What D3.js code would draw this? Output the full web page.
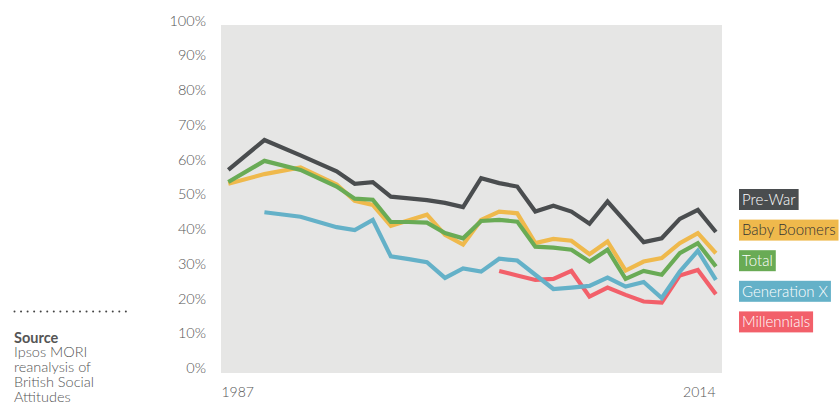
<!DOCTYPE html>
<html>
<head>
<meta charset="utf-8">
<script src="https://cdn.jsdelivr.net/npm/d3@7"></script>
<style>
  html, body { margin: 0; padding: 0; background: #ffffff; }
  svg { display: block; font-family: Lato, "Open Sans", sans-serif; font-weight: 300; }
</style>
</head>
<body>
<svg id="chart" width="839" height="402"></svg>
<script>
// Survey years (BSA waves shown)
const years = [1987, 1989, 1991, 1993, 1994, 1995, 1996, 1997, 1998, 1999, 2000,
  2001, 2002, 2003, 2004, 2005, 2006, 2007, 2008, 2009, 2010, 2011, 2012, 2013, 2014];

// Percentages per generation (null = generation not yet surveyed)
const preWar = [57.0, 65.6, 61.2, 56.6, 53.0, 53.5, 49.3, 48.8, 48.3, 47.5, 46.3,
  54.6, 53.2, 52.2, 45.0, 46.7, 45.0, 41.5, 47.9, 42.0, 36.2, 37.3, 42.9, 45.5, 39.1];
const babyBoomers = [53.0, 55.8, 57.7, 52.8, 48.1, 46.9, 40.9, 42.5, 44.1, 38.3, 35.5,
  42.6, 45.0, 44.5, 35.9, 37.1, 36.6, 32.7, 36.4, 28.0, 30.6, 31.6, 35.9, 38.8, 33.0];
const total = [53.5, 59.6, 57.0, 52.2, 48.7, 48.4, 42.0, 42.0, 41.8, 38.8, 37.3,
  42.3, 42.6, 42.1, 34.9, 34.6, 34.0, 30.6, 34.0, 25.6, 27.9, 26.8, 33.0, 35.9, 29.2];
const generationX = [null, 44.8, 43.5, 40.5, 39.7, 42.6, 32.1, 31.3, 30.4, 25.9, 28.6,
  27.7, 31.4, 30.9, 26.8, 22.7, 23.1, 23.6, 26.0, 23.4, 24.7, 20.1, 27.7, 33.7, 25.3];
const millennials = [null, null, null, null, null, null, null, null, null, null, null,
  null, 27.9, 26.6, 25.3, 25.6, 27.9, 20.5, 23.1, 21.0, 19.1, 18.8, 26.6, 28.2, 21.2];

const yTicks = [0, 10, 20, 30, 40, 50, 60, 70, 80, 90, 100];
const xLabels = [1987, 2014];

const seriesNames = ["Pre-War", "Baby Boomers", "Total", "Generation X", "Millennials"];
const seriesValues = [preWar, babyBoomers, total, generationX, millennials];
const seriesColors = ["#4a4d4f", "#efb94c", "#69ab55", "#64b1c8", "#f2606a"];
const labelColors = ["#ffffff", "#333333", "#ffffff", "#ffffff", "#ffffff"];

// Series drawn from the back (Millennials) to the front (Pre-War)
const drawOrder = [4, 3, 1, 2, 0];

const svg = d3.select("#chart");

const x = d3.scaleLinear().domain([1987, 2014]).range([228.3, 715.9]);
const y = d3.scaleLinear().domain([0, 100]).range([367.8, 20.6]);

// Plot panel
svg.append("rect")
  .attr("x", 221).attr("y", 25)
  .attr("width", 501).attr("height", 348)
  .attr("fill", "#e6e6e5");

// Y axis labels
const yAxis = d3.axisLeft(y).tickValues(yTicks).tickFormat(d => d + "%").tickSize(0).tickPadding(0);
const yg = svg.append("g").attr("transform", "translate(206,0)").call(yAxis);
yg.select(".domain").remove();
yg.selectAll("text")
  .attr("fill", "#555555")
  .style("font-size", "14.5px")
  .style("font-family", "Lato, sans-serif")
  .style("font-weight", "300");

// X axis labels: first left-aligned, last right-aligned
const xAxis = d3.axisBottom(x).tickValues(xLabels).tickFormat(d3.format("d")).tickSize(0).tickPadding(0);
const xg = svg.append("g").attr("transform", "translate(0,387)").call(xAxis);
xg.select(".domain").remove();
xg.selectAll("text")
  .attr("fill", "#555555")
  .style("font-size", "14px")
  .style("font-family", "Lato, sans-serif")
  .style("font-weight", "300")
  .attr("text-anchor", (d, i) => i === 0 ? "start" : "end")
  .attr("dx", (d, i) => i === 0 ? (221 - x(d)) : (715 - x(d)));

// Lines
const line = d3.line()
  .defined(d => d.v !== null)
  .x(d => x(d.year))
  .y(d => y(d.v));

drawOrder.forEach(i => {
  const pts = years.map((yr, k) => ({ year: yr, v: seriesValues[i][k] }));
  svg.append("path")
    .datum(pts)
    .attr("d", line)
    .attr("fill", "none")
    .attr("stroke", seriesColors[i])
    .attr("stroke-width", 4.2)
    .attr("stroke-linejoin", "miter");
});

// Legend: labels on coloured boxes
const legend = svg.append("g");
seriesNames.forEach((name, i) => {
  const top = 189 + i * 30.6;
  const g = legend.append("g").attr("transform", `translate(739,${top})`);
  const rect = g.append("rect").attr("height", 21).attr("fill", seriesColors[i]);
  const t = g.append("text")
    .attr("x", 3).attr("y", 15.8)
    .attr("fill", labelColors[i])
    .style("font-size", "15px")
    .style("font-family", "Lato, sans-serif")
    .style("font-weight", "300")
    .text(name);
  rect.attr("width", t.node().getComputedTextLength() + 6);
});

// Source note
const dotData = d3.range(18);
svg.append("g").selectAll("circle")
  .data(dotData)
  .join("circle")
  .attr("cx", d => 14.5 + d * 6.55)
  .attr("cy", 311.5)
  .attr("r", 1)
  .attr("fill", "#444444");

svg.append("text")
  .attr("x", 14).attr("y", 342.7)
  .attr("fill", "#555555")
  .style("font-size", "14.5px")
  .style("font-weight", "bold")
  .text("Source");

const sourceLines = ["Ipsos MORI", "reanalysis of", "British Social", "Attitudes"];
svg.append("g").selectAll("text")
  .data(sourceLines)
  .join("text")
  .attr("x", 14)
  .attr("y", (d, i) => 357.4 + i * 14.9)
  .attr("fill", "#555555")
  .style("font-size", "14.5px")
  .style("font-weight", "300")
  .text(d => d);
</script>
</body>
</html>
